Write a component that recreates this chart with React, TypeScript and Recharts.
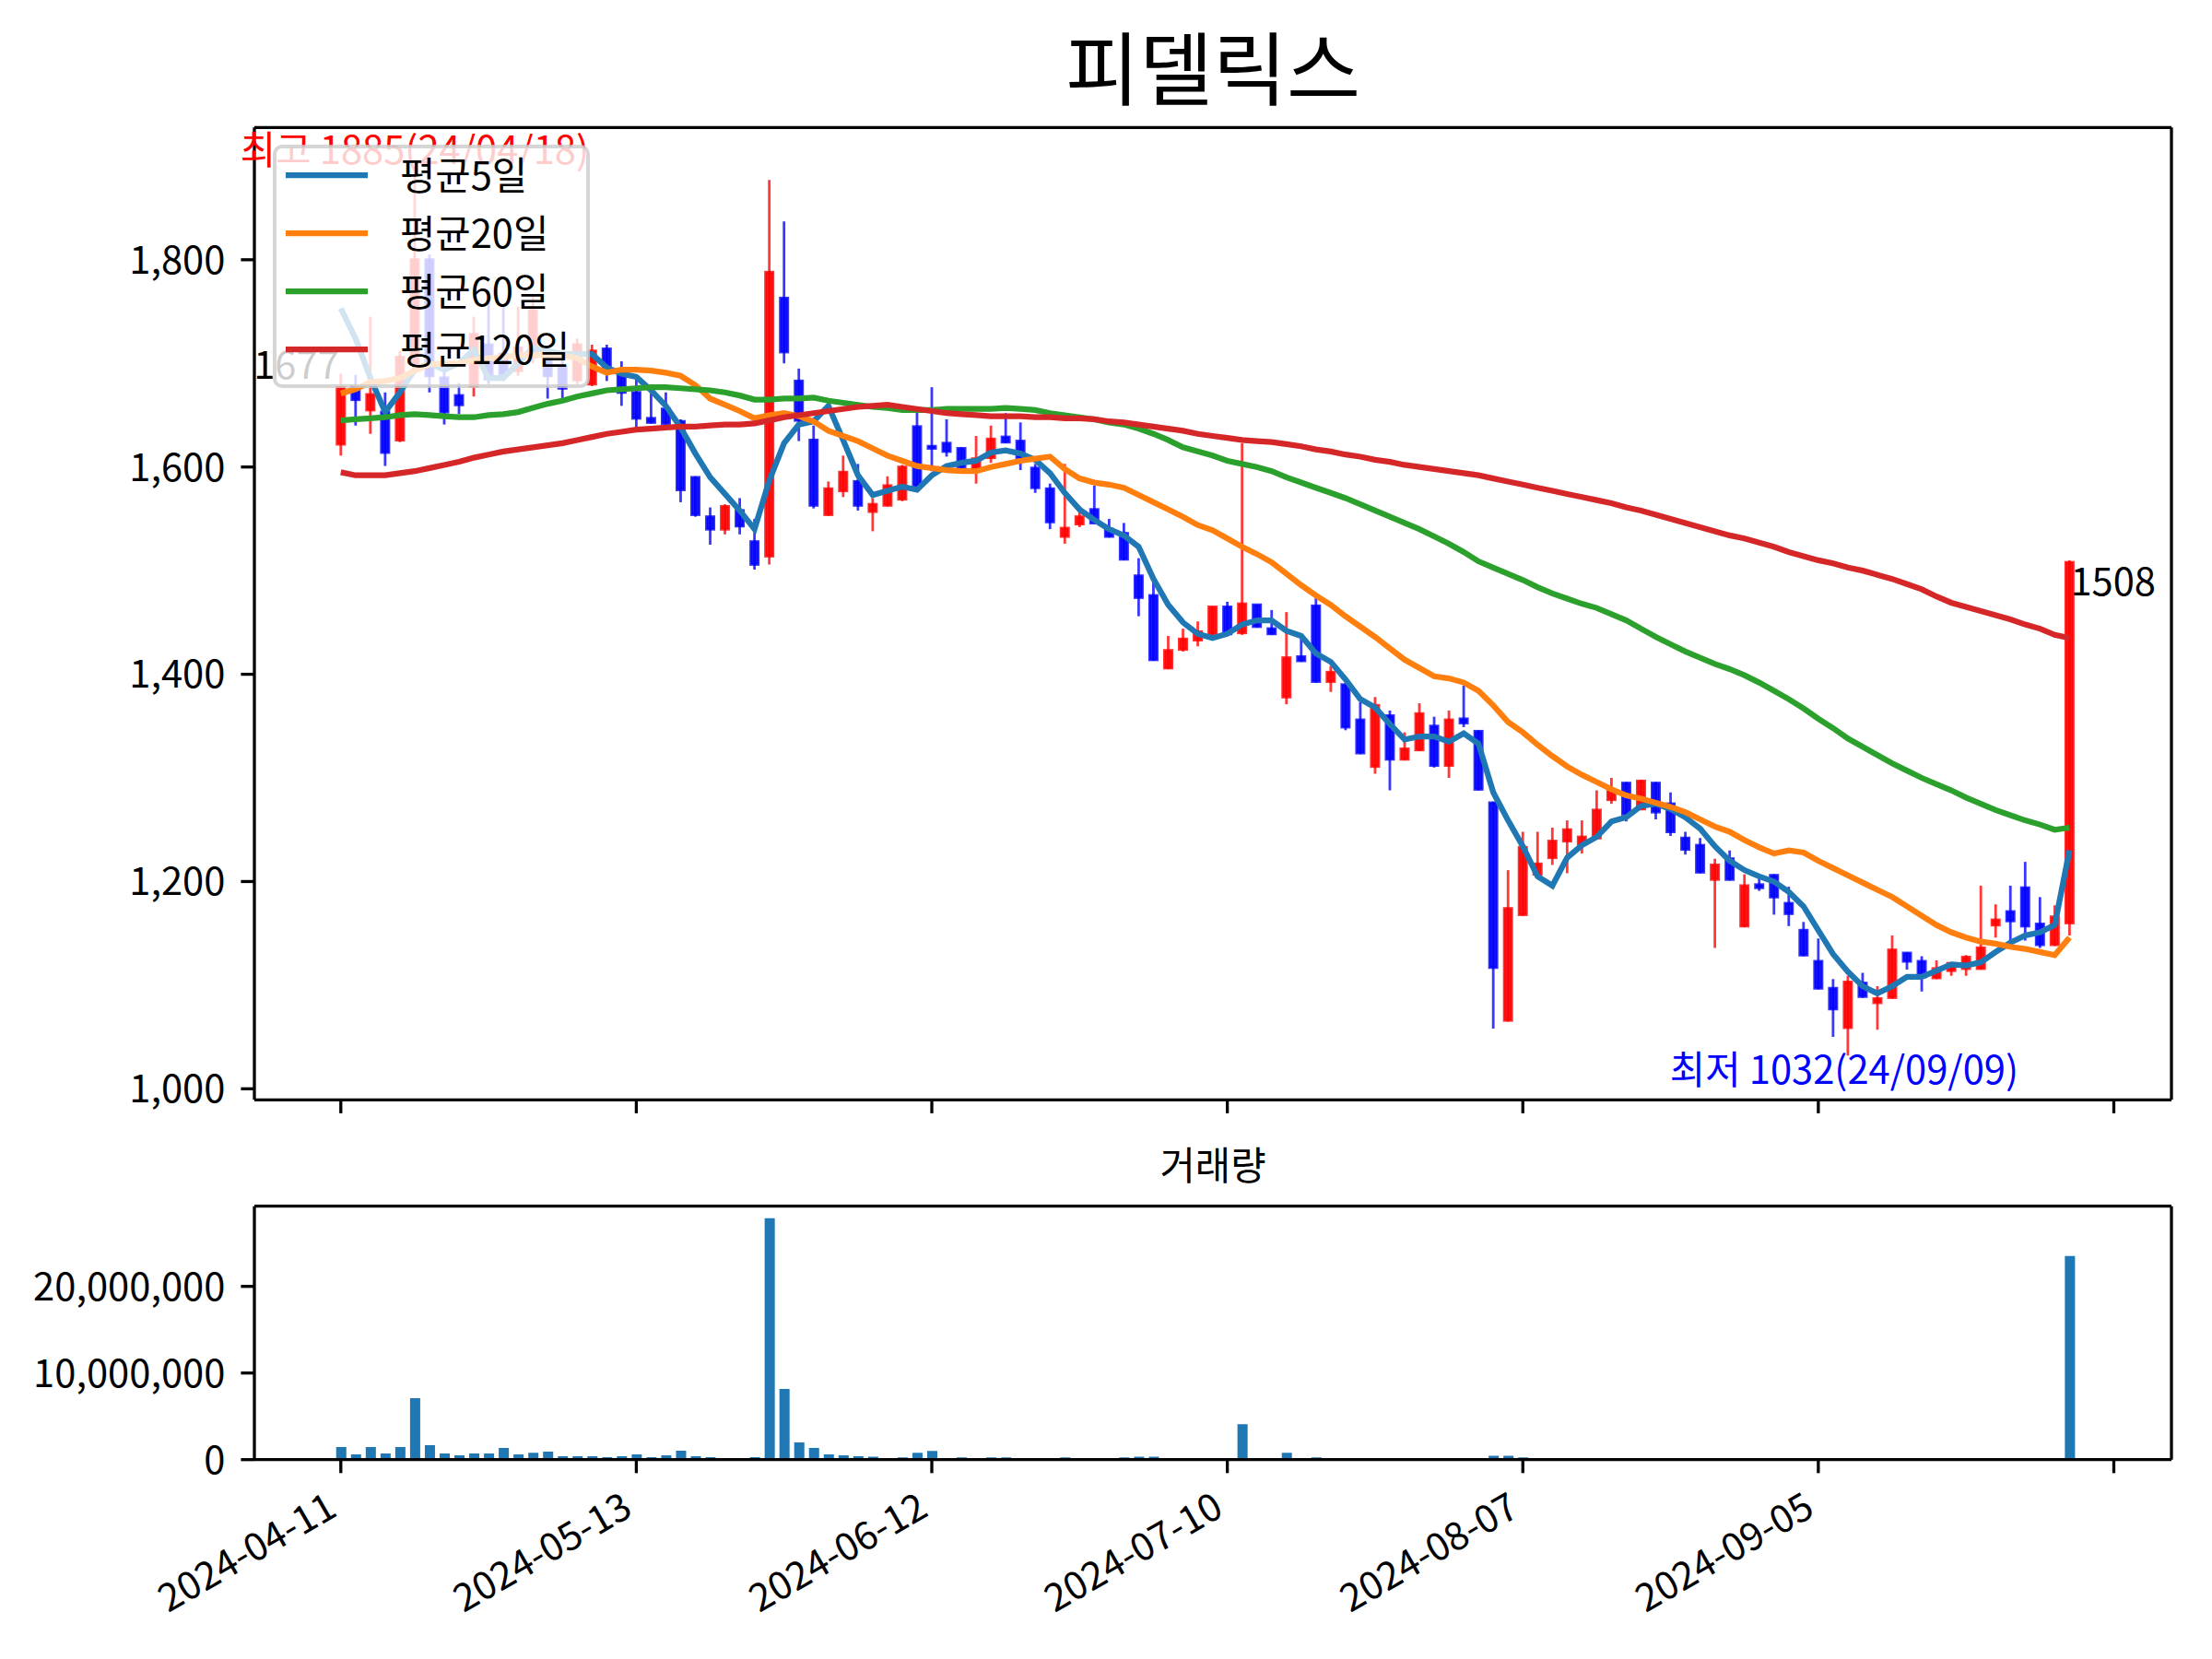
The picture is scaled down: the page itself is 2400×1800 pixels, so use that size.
import React from 'react';
import { ComposedChart, Bar, Line, XAxis, YAxis, Legend, ReferenceDot } from 'recharts';

const FONT = "'Noto Sans CJK KR', 'Noto Sans', sans-serif";

// x ticks (trading-day index) and their date labels
const tickIdx = [0, 20, 40, 60, 80, 100, 120];
const tickDates = ['2024-04-11', '2024-05-13', '2024-06-12', '2024-07-10', '2024-08-07', '2024-09-05', ''];
const legendOrder = ['평균5일', '평균20일', '평균60일', '평균120일'];

const highDate = '24/04/18';
const lowDate = '24/09/09';

const opens = [1622,1678,1655,1653,1626,1700,1800,1686,1669,1678,
  1718,1709,1693,1706,1706,1696,1684,1680,1714,1690,
  1672,1647,1656,1644,1590,1552,1540,1558,1528,1514,
  1763,1683,1626,1554,1577,1586,1557,1563,1569,1639,
  1620,1623,1618,1599,1609,1629,1625,1599,1579,1533,
  1545,1559,1540,1536,1495,1476,1406,1424,1433,1439,
  1465,1440,1467,1444,1378,1417,1466,1393,1390,1356,
  1311,1360,1318,1327,1350,1312,1357,1345,1276,1066,
  1168,1207,1223,1239,1236,1242,1279,1295,1270,1295,
  1275,1242,1235,1202,1222,1157,1197,1206,1179,1153,
  1123,1097,1059,1102,1083,1088,1131,1123,1107,1114,
  1116,1116,1158,1171,1194,1159,1139,1160];

const highs = [1690,1689,1745,1672,1712,1885,1805,1697,1681,1745,
  1758,1755,1755,1766,1716,1706,1724,1718,1718,1702,
  1686,1671,1672,1646,1591,1561,1564,1570,1550,1877,
  1837,1695,1640,1586,1611,1603,1570,1591,1602,1653,
  1677,1646,1619,1630,1640,1652,1643,1603,1584,1603,
  1562,1582,1550,1546,1512,1492,1437,1444,1451,1465,
  1470,1623,1467,1462,1460,1436,1478,1408,1391,1373,
  1378,1365,1344,1372,1359,1365,1389,1346,1277,1211,
  1248,1248,1252,1259,1259,1288,1300,1296,1298,1296,
  1286,1248,1242,1222,1230,1207,1207,1207,1195,1161,
  1145,1106,1109,1112,1099,1148,1132,1128,1124,1122,
  1129,1196,1178,1196,1219,1185,1177,1510];

const lows = [1611,1640,1632,1601,1624,1690,1672,1641,1651,1668,
  1680,1683,1688,1700,1666,1666,1680,1678,1683,1659,
  1636,1642,1641,1566,1552,1525,1535,1535,1501,1506,
  1700,1625,1560,1553,1571,1558,1538,1562,1567,1580,
  1596,1610,1598,1584,1604,1623,1597,1575,1540,1526,
  1542,1545,1532,1510,1456,1413,1405,1422,1427,1438,
  1437,1438,1445,1438,1371,1412,1392,1383,1346,1323,
  1304,1288,1317,1326,1310,1300,1349,1288,1058,1065,
  1167,1206,1216,1208,1227,1241,1275,1258,1269,1260,
  1244,1226,1208,1136,1201,1156,1191,1168,1157,1128,
  1096,1050,1032,1088,1057,1087,1115,1094,1106,1109,
  1109,1115,1146,1143,1143,1136,1138,1148];

const closes = [1677,1665,1670,1614,1706,1800,1688,1653,1660,1728,
  1685,1690,1715,1751,1688,1676,1718,1712,1693,1672,
  1647,1643,1642,1578,1554,1540,1562,1543,1506,1788,
  1711,1645,1563,1579,1595,1563,1564,1582,1600,1582,
  1618,1615,1600,1608,1627,1624,1609,1580,1547,1541,
  1552,1546,1533,1511,1474,1414,1423,1434,1441,1465,
  1439,1468,1446,1439,1416,1413,1393,1402,1349,1324,
  1370,1318,1328,1362,1312,1356,1353,1289,1117,1174,
  1233,1217,1239,1250,1243,1269,1288,1265,1297,1267,
  1248,1231,1209,1216,1202,1196,1194,1185,1169,1129,
  1097,1077,1103,1089,1087,1134,1123,1108,1116,1121,
  1127,1136,1163,1162,1157,1139,1166,1508];

const volumes = [1450000,600000,1450000,700000,1450000,7100000,1670000,700000,500000,700000,
  700000,1350000,600000,800000,920000,390000,390000,390000,280000,390000,
  600000,280000,500000,1030000,390000,280000,180000,180000,280000,27860000,
  8150000,2000000,1350000,600000,500000,390000,350000,140000,250000,780000,
  1000000,140000,250000,140000,250000,250000,140000,140000,140000,250000,
  60000,140000,140000,250000,350000,350000,40000,30000,30000,30000,
  40000,4080000,140000,140000,780000,40000,250000,40000,140000,140000,
  140000,30000,30000,30000,30000,30000,30000,140000,460000,460000,
  250000,30000,30000,30000,30000,140000,20000,20000,20000,20000,
  20000,20000,20000,20000,20000,20000,20000,20000,20000,20000,
  20000,20000,20000,20000,20000,20000,20000,20000,20000,20000,
  20000,180000,20000,180000,70000,30000,30000,23500000];

const ma5 = [1753,1724,1686,1653,1672,1694,1700,1694,1700,1713,
  1686,1686,1700,1715,1712,1709,1709,1709,1696,1690,
  1687,1674,1659,1638,1613,1590,1574,1558,1540,1587,
  1623,1641,1644,1659,1626,1592,1573,1577,1581,1578,
  1592,1601,1604,1606,1614,1616,1613,1607,1594,1575,
  1559,1549,1540,1534,1523,1492,1467,1450,1439,1435,
  1439,1448,1452,1452,1442,1437,1420,1412,1395,1376,
  1368,1352,1337,1340,1340,1335,1343,1333,1286,1259,
  1234,1205,1196,1223,1235,1243,1258,1262,1273,1275,
  1270,1262,1251,1234,1220,1211,1205,1200,1190,1176,
  1153,1130,1113,1099,1092,1099,1108,1108,1114,1120,
  1119,1122,1132,1141,1148,1151,1158,1230];

const ma20 = [1671,1675,1682,1683,1686,1693,1699,1700,1700,1703,
  1705,1706,1708,1708,1708,1708,1705,1697,1691,1694,
  1694,1693,1691,1688,1679,1666,1660,1654,1647,1650,
  1652,1649,1644,1635,1630,1625,1618,1611,1606,1601,
  1599,1597,1596,1596,1600,1603,1606,1608,1610,1598,
  1589,1585,1583,1580,1573,1566,1559,1552,1544,1539,
  1531,1523,1516,1508,1497,1486,1476,1467,1456,1446,
  1436,1425,1414,1406,1398,1396,1392,1384,1370,1354,
  1344,1332,1321,1311,1303,1296,1289,1283,1280,1276,
  1272,1267,1260,1253,1248,1240,1233,1227,1230,1228,
  1220,1213,1206,1199,1192,1185,1176,1167,1158,1151,
  1146,1142,1140,1137,1135,1132,1129,1146];

const ma60 = [1645,1646,1647,1648,1650,1651,1650,1649,1648,1648,
  1650,1651,1653,1657,1661,1664,1668,1671,1674,1675,
  1676,1677,1677,1676,1675,1674,1672,1669,1665,1665,
  1666,1666,1667,1664,1662,1660,1658,1657,1655,1655,
  1655,1656,1656,1656,1656,1657,1656,1655,1652,1650,
  1648,1646,1643,1641,1637,1632,1626,1619,1615,1611,
  1606,1603,1600,1596,1590,1585,1580,1575,1570,1564,
  1558,1552,1546,1540,1533,1526,1518,1509,1503,1497,
  1491,1484,1478,1473,1468,1464,1458,1452,1444,1436,
  1429,1422,1416,1410,1405,1399,1392,1384,1376,1367,
  1357,1348,1338,1330,1322,1314,1307,1300,1294,1288,
  1281,1275,1269,1264,1259,1255,1250,1252];

const ma120 = [1595,1592,1592,1592,1594,1596,1599,1602,1605,1609,
  1612,1615,1617,1619,1621,1623,1626,1629,1632,1634,
  1636,1637,1638,1639,1639,1640,1641,1641,1642,1645,
  1648,1650,1652,1654,1656,1658,1659,1660,1658,1656,
  1654,1652,1651,1650,1649,1649,1649,1648,1648,1647,
  1647,1646,1644,1643,1641,1639,1637,1635,1632,1630,
  1628,1626,1625,1624,1622,1620,1617,1615,1612,1610,
  1607,1605,1602,1600,1598,1596,1594,1592,1589,1586,
  1583,1580,1577,1574,1571,1568,1565,1561,1558,1554,
  1550,1546,1542,1538,1534,1531,1527,1523,1518,1514,
  1510,1507,1503,1500,1496,1492,1487,1482,1475,1469,
  1465,1461,1457,1453,1448,1444,1438,1435];

const rows = opens.map((o, i) => ({
  i, o, h: highs[i], l: lows[i], c: closes[i], vol: volumes[i],
  ma5: ma5[i], ma20: ma20[i], ma60: ma60[i], ma120: ma120[i],
}));

const hiVal = Math.max(...highs);
const hiIdx = highs.indexOf(hiVal);
const loVal = Math.min(...lows);
const loIdx = lows.indexOf(loVal);
const lastIdx = closes.length - 1;

const X_DOMAIN: [number, number] = [-5.85, 123.9];
const FS = 41.7;
const LW = 3.3;
const axisStyle = { stroke: '#000', strokeWidth: LW };

const Candle = (props: any) => {
  const { x, y, width, height, payload } = props;
  if (x == null || y == null || !payload) return null;
  const top = Math.min(y, y + height);
  const span = Math.abs(height);
  const k = span / (payload.h - payload.l || 1);
  const up = payload.c >= payload.o;
  const color = up ? '#ff0000' : '#0000ff';
  const bTop = top + (payload.h - Math.max(payload.o, payload.c)) * k;
  const bH = Math.max(Math.abs(payload.c - payload.o) * k, 1.5);
  const cx = x + width / 2;
  return (
    <g>
      <line x1={cx} x2={cx} y1={top} y2={top + span} stroke={color} strokeOpacity={0.78} strokeWidth={2.8} />
      <rect x={x} y={bTop} width={width} height={bH} fill={color} fillOpacity={0.9}
        stroke={color} strokeOpacity={0.8} strokeWidth={3} />
    </g>
  );
};

const renderLegend = (props: any) => {
  const items = (props.payload || [])
    .filter((p: any) => legendOrder.includes(p.value))
    .sort((a: any, b: any) => legendOrder.indexOf(a.value) - legendOrder.indexOf(b.value));
  return (
    <svg width={344} height={264} style={{ display: 'block' }}>
      <rect x={2} y={2} width={340} height={260} rx={8} fill="#fff" fillOpacity={0.8}
        stroke="#cccccc" strokeOpacity={0.8} strokeWidth={4} />
      {items.map((it: any, k: number) => {
        const cy = 33 + k * 63;
        return (
          <g key={it.value}>
            <line x1={14} x2={103} y1={cy} y2={cy} stroke={it.color} strokeWidth={6.25} />
            <text x={138} y={cy + 16} fontSize={FS} fill="#000" fontFamily={FONT}>{it.value}</text>
          </g>
        );
      })}
    </svg>
  );
};

const DateTick = (props: any) => {
  const { x, y, payload } = props;
  const label = tickDates[tickIdx.indexOf(payload.value)] || '';
  if (!label) return null;
  const ax = x - 2;
  const ay = y + 45;
  return (
    <text x={ax} y={ay} textAnchor="end" fontSize={FS} fill="#000" fontFamily={FONT}
      transform={`rotate(-30 ${ax} ${ay})`}>{label}</text>
  );
};

const fmt = (v: number) => v.toLocaleString('en-US');

export default function App() {
  return (
    <div style={{ position: 'absolute', left: 0, top: 0, width: 2400, height: 1800, background: '#fff', fontFamily: FONT }}>
      <svg width={2400} height={1800} style={{ position: 'absolute', left: 0, top: 0 }}>
        <text x={1316} y={108} textAnchor="middle" fontSize={87} fill="#000" fontFamily={FONT}>피델릭스</text>
        <text x={1316} y={1280} textAnchor="middle" fontSize={FS} fill="#000" fontFamily={FONT}>거래량</text>
      </svg>

      <div style={{ position: 'absolute', left: 0, top: 0 }}>
        <ComposedChart width={2400} height={1260} data={rows} margin={{ top: 137.3, right: 43, bottom: 0, left: 0 }}>
          <XAxis dataKey="i" type="number" domain={X_DOMAIN} allowDataOverflow ticks={tickIdx}
            tickFormatter={() => ''} height={66.7} tickSize={14.6} axisLine={axisStyle} tickLine={axisStyle} />
          <XAxis xAxisId="top" orientation="top" dataKey="i" type="number" domain={X_DOMAIN} allowDataOverflow
            height={1} tick={false} tickLine={false} axisLine={axisStyle} />
          <YAxis type="number" domain={[989.35, 1927.65]} allowDataOverflow ticks={[1000, 1200, 1400, 1600, 1800]}
            width={276} tickFormatter={fmt} tick={{ fontSize: FS, fill: '#000' }} tickSize={14.6} tickMargin={17}
            axisLine={axisStyle} tickLine={axisStyle} />
          <YAxis yAxisId="right" orientation="right" type="number" domain={[0, 1]} width={1}
            tick={false} tickLine={false} axisLine={axisStyle} />
          <Bar dataKey={(d: any) => [d.l, d.h]} shape={<Candle />} barSize={8} isAnimationActive={false} legendType="none" />
          <Line type="linear" dataKey="ma5" name="평균5일" stroke="#1f77b4" strokeWidth={6.25} dot={false} isAnimationActive={false} />
          <Line type="linear" dataKey="ma20" name="평균20일" stroke="#ff7f0e" strokeWidth={6.25} dot={false} isAnimationActive={false} />
          <Line type="linear" dataKey="ma60" name="평균60일" stroke="#2ca02c" strokeWidth={6.25} dot={false} isAnimationActive={false} />
          <Line type="linear" dataKey="ma120" name="평균120일" stroke="#d62728" strokeWidth={6.25} dot={false} isAnimationActive={false} />
          <ReferenceDot x={hiIdx} y={hiVal} r={0} ifOverflow="visible"
            shape={(p: any) => (
              <text x={p.cx} y={p.cy - 8} textAnchor="middle" fontSize={FS} fill="#ff0000" fontFamily={FONT}>
                {`최고 ${hiVal}(${highDate})`}
              </text>
            )} />
          <ReferenceDot x={loIdx} y={loVal} r={0} ifOverflow="visible"
            shape={(p: any) => (
              <text x={p.cx - 4} y={p.cy + 31} textAnchor="middle" fontSize={FS} fill="#0000ff" fontFamily={FONT}>
                {`최저 ${loVal}(${lowDate})`}
              </text>
            )} />
          <ReferenceDot x={0} y={closes[0]} r={0} ifOverflow="visible"
            shape={(p: any) => (
              <text x={p.cx - 2} y={p.cy - 9} textAnchor="end" fontSize={FS} fill="#000" fontFamily={FONT}>
                {String(closes[0])}
              </text>
            )} />
          <ReferenceDot x={lastIdx} y={closes[lastIdx]} r={0} ifOverflow="visible"
            shape={(p: any) => (
              <text x={p.cx + 1} y={p.cy + 36} textAnchor="start" fontSize={FS} fill="#000" fontFamily={FONT}>
                {String(closes[lastIdx])}
              </text>
            )} />
          <Legend layout="vertical" align="center" verticalAlign="middle" content={renderLegend}
            wrapperStyle={{ left: 296, top: 157, width: 344, height: 264 }} />
        </ComposedChart>
      </div>

      <div style={{ position: 'absolute', left: 0, top: 1260 }}>
        <ComposedChart width={2400} height={540} data={rows} margin={{ top: 47.7, right: 43, bottom: 0, left: 0 }}>
          <XAxis dataKey="i" type="number" domain={X_DOMAIN} allowDataOverflow ticks={tickIdx}
            tick={<DateTick />} height={216.3} tickSize={14.6} tickMargin={0} axisLine={axisStyle} tickLine={axisStyle} />
          <XAxis xAxisId="top" orientation="top" dataKey="i" type="number" domain={X_DOMAIN} allowDataOverflow
            height={1} tick={false} tickLine={false} axisLine={axisStyle} />
          <YAxis type="number" domain={[0, 29260000]} allowDataOverflow ticks={[0, 10000000, 20000000]}
            width={276} tickFormatter={fmt} tick={{ fontSize: FS, fill: '#000' }} tickSize={14.6} tickMargin={17}
            axisLine={axisStyle} tickLine={axisStyle} />
          <YAxis yAxisId="right" orientation="right" type="number" domain={[0, 1]} width={1}
            tick={false} tickLine={false} axisLine={axisStyle} />
          <Bar dataKey="vol" fill="#1f77b4" barSize={11} isAnimationActive={false} />
        </ComposedChart>
      </div>
    </div>
  );
}
